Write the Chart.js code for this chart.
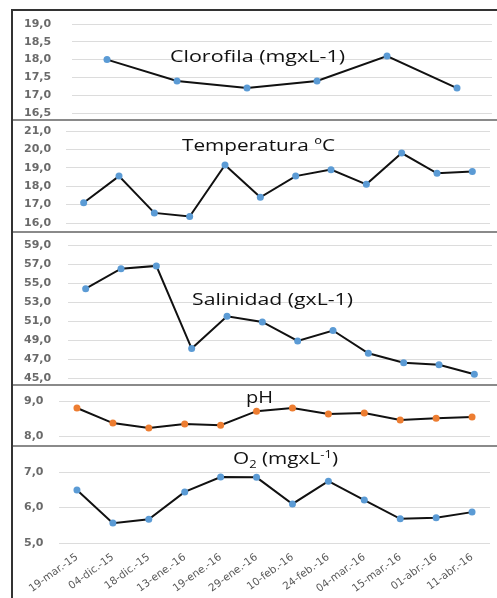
<!DOCTYPE html>
<html>
<head>
<meta charset="utf-8">
<title>Parámetros</title>
<script src="https://cdn.jsdelivr.net/npm/chart.js@4.4.0/dist/chart.umd.min.js"></script>
<style>
  body { margin: 0; background: #fff; }
  #wrap { position: relative; width: 497px; height: 598px; overflow: hidden; background: #fff; }
  #wrap canvas { position: absolute; left: 0; top: 0; }
  .linea { position: absolute; }
  .titulo {
    position: absolute;
    font-family: "Open Sans";
    font-size: 16px;
    line-height: 16px;
    white-space: nowrap;
    color: #111;
    transform-origin: 0 0;
  }
  .titulo sub, .titulo sup { font-size: 10px; line-height: 0; }
</style>
</head>
<body>
<div id="wrap">
  <canvas id="c1" width="497" height="598"></canvas>
  <canvas id="c2" width="497" height="598"></canvas>
  <canvas id="c3" width="497" height="598"></canvas>
  <canvas id="c4" width="497" height="598"></canvas>
  <canvas id="c5" width="497" height="598"></canvas>

  <!-- marco y separadores -->
  <div class="linea" style="left:11px;top:9px;width:486px;height:2px;background:#333"></div>
  <div class="linea" style="left:11px;top:9px;width:2px;height:589px;background:#333"></div>
  <div class="linea" style="left:13px;top:119px;width:484px;height:2px;background:#8a8a8a"></div>
  <div class="linea" style="left:13px;top:231px;width:484px;height:2px;background:#8a8a8a"></div>
  <div class="linea" style="left:13px;top:384px;width:484px;height:2px;background:#8a8a8a"></div>
  <div class="linea" style="left:13px;top:445px;width:484px;height:2px;background:#8a8a8a"></div>

  <div class="titulo" data-w="175" style="left:170px;top:48px">Clorofila (mgxL-1)</div>
  <div class="titulo" data-w="153" style="left:182px;top:137px">Temperatura ºC</div>
  <div class="titulo" data-w="161" style="left:192px;top:291px">Salinidad (gxL-1)</div>
  <div class="titulo" data-w="27" style="left:246px;top:389px">pH</div>
  <div class="titulo" data-w="105" style="left:233px;top:450px">O<sub>2</sub> (mgxL<sup>-1</sup>)</div>
</div>

<script>
// fechas de muestreo
var fechas = ["19-mar.-15", "04-dic.-15", "18-dic.-15", "13-ene.-16", "19-ene.-16", "29-ene.-16",
              "10-feb.-16", "24-feb.-16", "04-mar.-16", "15-mar.-16", "01-abr.-16", "11-abr.-16"];
// clorofila solo tiene 6 muestras
var muestrasClorofila = ["M1", "M2", "M3", "M4", "M5", "M6"];

var clorofila   = [18.0, 17.4, 17.2, 17.4, 18.1, 17.2];
var temperatura = [17.1, 18.55, 16.55, 16.35, 19.15, 17.4, 18.55, 18.9, 18.1, 19.8, 18.7, 18.8];
var salinidad   = [54.4, 56.5, 56.8, 48.1, 51.5, 50.9, 48.9, 50.0, 47.6, 46.6, 46.4, 45.4];
var ph          = [8.8, 8.37, 8.23, 8.34, 8.31, 8.71, 8.8, 8.63, 8.66, 8.46, 8.51, 8.54];
var oxigeno     = [6.49, 5.56, 5.67, 6.44, 6.86, 6.85, 6.1, 6.74, 6.21, 5.68, 5.71, 5.87];

// marcas de los ejes
var ticksClorofila   = [16.5, 17.0, 17.5, 18.0, 18.5, 19.0];
var ticksTemperatura = [16, 17, 18, 19, 20, 21];
var ticksSalinidad   = [45, 47, 49, 51, 53, 55, 57, 59];
var ticksPh          = [8, 9];
var ticksOxigeno     = [5, 6, 7];

var W = 497, H = 598;

function panel(id, labels, data, ticks, yMin, yMax, area, color, showX) {
  var ctx = document.getElementById(id).getContext("2d");
  return new Chart(ctx, {
    type: "line",
    data: {
      labels: labels,
      datasets: [{
        data: data,
        borderColor: "#111",
        borderWidth: 2,
        tension: 0,
        pointRadius: 3.5,
        pointBackgroundColor: color,
        pointBorderColor: color,
        pointBorderWidth: 0
      }]
    },
    options: {
      responsive: false,
      animation: false,
      events: [],
      layout: {
        padding: {
          left: 24,
          right: W - area.right,
          top: area.top,
          bottom: showX ? 0 : H - area.bottom
        }
      },
      plugins: { legend: { display: false }, tooltip: { enabled: false } },
      scales: {
        x: {
          display: showX,
          offset: true,
          grid: { display: false, drawTicks: false },
          border: { display: false },
          ticks: {
            autoSkip: false,
            minRotation: 36,
            maxRotation: 36,
            padding: 8,
            color: "#595959",
            font: { family: "DejaVu Sans", size: 10.5 }
          },
          afterFit: function(s) { if (showX) s.height = H - area.bottom; }
        },
        y: {
          min: yMin,
          max: yMax,
          grid: { color: "#dcdcdc", lineWidth: 1, drawTicks: false },
          border: { display: false },
          ticks: {
            crossAlign: "far",
            color: "#6a6a6a",
            font: { family: "DejaVu Sans", size: 11, weight: "bold" },
            callback: function(v) { return Number(v).toFixed(1).replace(".", ","); }
          },
          afterBuildTicks: function(s) {
            s.ticks = ticks.map(function(v) { return { value: v }; });
          },
          afterFit: function(s) { s.width = area.left - 24; }
        }
      }
    }
  });
}

panel("c1", muestrasClorofila, clorofila, ticksClorofila, 16.5, 19,
      { left: 72, right: 492, top: 24, bottom: 113 }, "#5b9bd5", false);
panel("c2", fechas, temperatura, ticksTemperatura, 16, 21,
      { left: 66, right: 490, top: 131, bottom: 223 }, "#5b9bd5", false);
panel("c3", fechas, salinidad, ticksSalinidad, 45, 59,
      { left: 68, right: 492, top: 245, bottom: 378 }, "#5b9bd5", false);
panel("c4", fechas, ph, ticksPh, 7.7, 9,
      { left: 59, right: 490, top: 401, bottom: 446.5 }, "#ed7d31", false);
panel("c5", fechas, oxigeno, ticksOxigeno, 5, 7,
      { left: 59, right: 490, top: 472, bottom: 543 }, "#5b9bd5", true);

// ajustar el ancho de los títulos al de la imagen
document.querySelectorAll(".titulo").forEach(function(el) {
  var w = el.getBoundingClientRect().width;
  el.style.transform = "scaleX(" + (Number(el.dataset.w) / w) + ")";
});
</script>
</body>
</html>
